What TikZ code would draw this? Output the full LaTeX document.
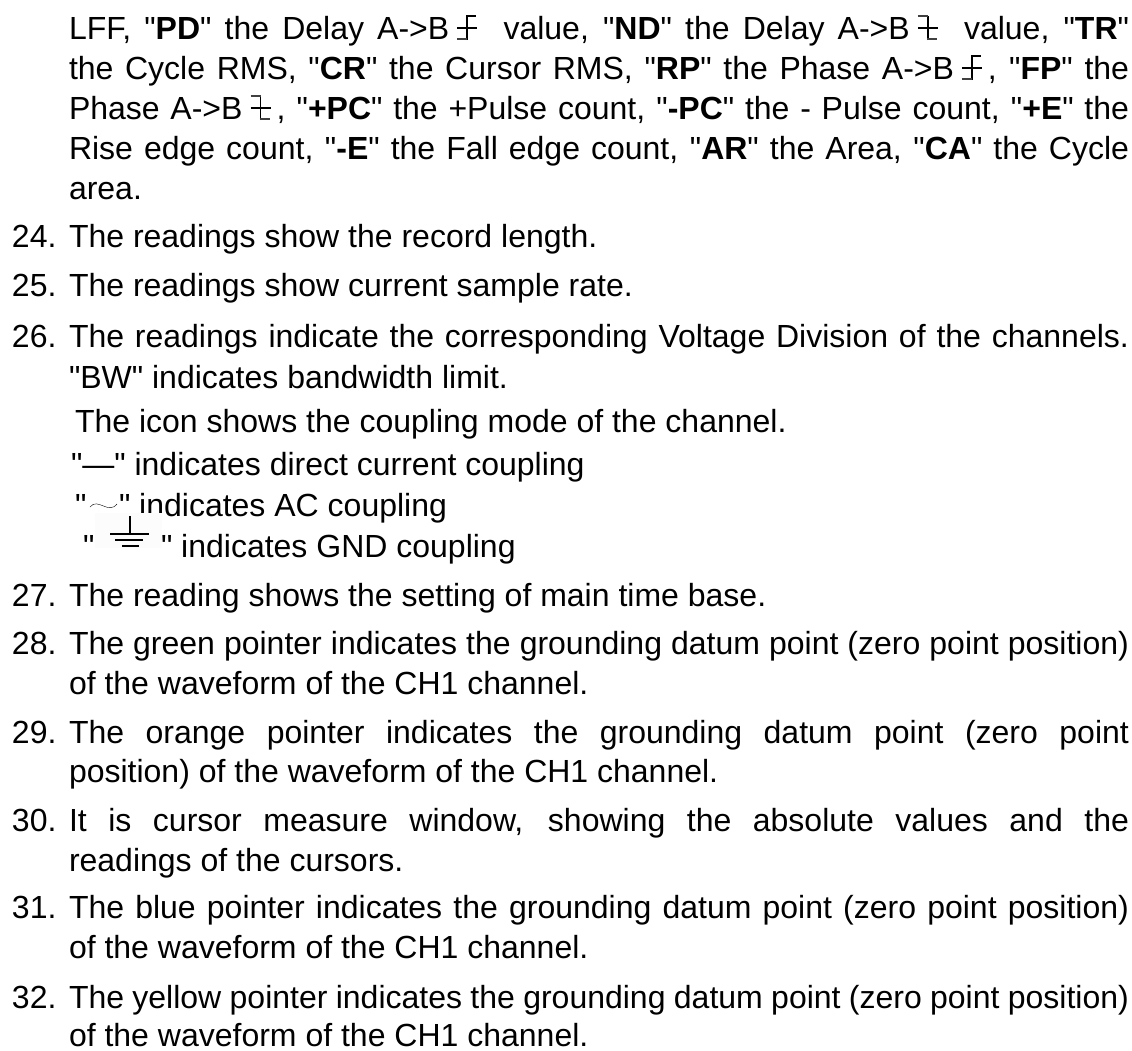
\documentclass[tikz,border=0pt]{standalone}
\usepackage{fontspec}
\setmainfont{Liberation Sans}[Ligatures=TeXOff]
\usetikzlibrary{positioning}
\newcommand{\fullline}[1]{\makebox[1060pt][s]{#1}}
\newcommand{\edgerise}{\setlength{\unitlength}{1pt}\begin{picture}(28,20)
\put(17,-1){\rule{1.8pt}{24pt}}\put(17,22){\rule{10pt}{1.8pt}}\put(8,10){\rule{20pt}{1.8pt}}\put(8,-1){\textcolor{darkgray}{\rule{10pt}{1.8pt}}}
\end{picture}}
\newcommand{\edgefall}{\setlength{\unitlength}{1pt}\begin{picture}(28,20)
\put(17,-1){\rule{1.8pt}{24pt}}\put(8,22){\textcolor{darkgray}{\rule{10pt}{1.8pt}}}\put(8,10){\rule{20pt}{1.8pt}}\put(17,-1){\textcolor{darkgray}{\rule{10pt}{1.8pt}}}
\end{picture}}
\definecolor{patchwhite}{gray}{0.99}
\begin{document}
\begin{tikzpicture}[
                    x=1pt,y=-1pt,
                    every node/.style={inner sep=0pt, outer sep=0pt, anchor=base west, font=\fontsize{32}{38}\selectfont},
                    coupling/.style={line width=1.1pt},
                ]
                \useasboundingbox (0,0) rectangle (1132,1050);
                \node (a1) at (69,39) {\fullline{LFF, "\textbf{PD}" the Delay A->B\edgerise\ \ value, "\textbf{ND}" the Delay A->B\edgefall\ \ value, "\textbf{TR}"}};
                \node (a2) at (69,79) {\fullline{the Cycle RMS, "\textbf{CR}" the Cursor RMS, "\textbf{RP}" the Phase A->B\edgerise\kern6pt, "\textbf{FP}" the}};
                \node (a3) at (69,119) {\fullline{Phase A->B\edgefall\kern6pt, "\textbf{+PC}" the +Pulse count, "\textbf{-PC}" the - Pulse count, "\textbf{+E}" the}};
                \node (a4) at (69,159) {\fullline{Rise edge count, "\textbf{-E}" the Fall edge count, "\textbf{AR}" the Area, "\textbf{CA}" the Cycle}};
                \node (a5) at (69,199) {area.};
                \node (n24) at (12,247) {24.};
                \node (b24) at (69,247) {The readings show the record length.};
                \node (n25) at (12,296) {25.};
                \node (b25) at (69,296) {The readings show current sample rate.};
                \node (n26) at (12,347) {26.};
                \node (b26) at (69,347) {\fullline{The readings indicate the corresponding Voltage Division of the channels.}};
                \node (c1) at (69,388) {"BW" indicates bandwidth limit.};
                \node (c2) at (75,432) {The icon shows the coupling mode of the channel.};
                \node (c3) at (71,475) {"—" indicates direct current coupling};
                \node (c4a) at (75,516) {"};
                \node (c4b) at (119,516) {" indicates AC coupling};
                \draw[thin] (90,507) .. controls (98,497) and (108,515) .. (117,504);
                \fill[patchwhite] (95,513) rectangle (162,548);
                \node (c5a) at (83,557) {"};
                \node (c5b) at (161,557) {" indicates GND coupling};
                \draw[coupling] (130,516) -- (130,534);
                \draw[coupling] (110,534) -- (149,534);
                \draw[coupling] (115,540) -- (143,540);
                \draw[coupling] (122,546) -- (139,546);
                \node (n27) at (12,606) {27.};
                \node (b27) at (69,606) {The reading shows the setting of main time base.};
                \node (n28) at (12,654) {28.};
                \node (b28) at (69,654) {\fullline{The green pointer indicates the grounding datum point (zero point position)}};
                \node (d28) at (69,694) {of the waveform of the CH1 channel.};
                \node (n29) at (12,743) {29.};
                \node (b29) at (69,743) {\fullline{The orange pointer indicates the grounding datum point (zero point}};
                \node (d29) at (69,782) {position) of the waveform of the CH1 channel.};
                \node (n30) at (12,831) {30.};
                \node (b30) at (69,831) {\fullline{It is cursor measure window, showing the absolute values and the}};
                \node (d30) at (69,871) {readings of the cursors.};
                \node (n31) at (12,918) {31.};
                \node (b31) at (69,918) {\fullline{The blue pointer indicates the grounding datum point (zero point position)}};
                \node (d31) at (69,958) {of the waveform of the CH1 channel.};
                \node (n32) at (12,1008) {32.};
                \node (b32) at (69,1008) {\fullline{The yellow pointer indicates the grounding datum point (zero point position)}};
                \node (d32) at (69,1046) {of the waveform of the CH1 channel.};
\end{tikzpicture}
\end{document}
